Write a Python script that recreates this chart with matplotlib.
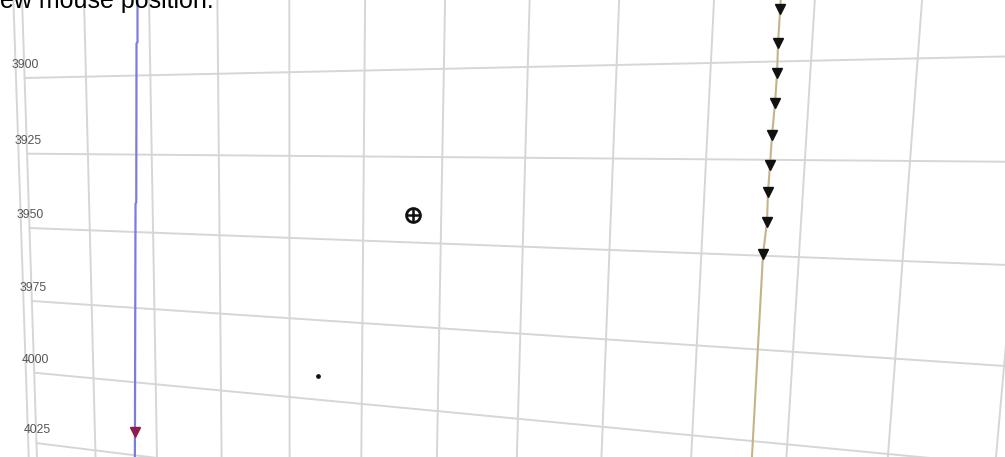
import numpy as np
import matplotlib
matplotlib.use("Agg")
import matplotlib.pyplot as plt
import matplotlib.transforms as mtransforms

# ---------------- data (world coordinates: easting, depth) ----------------
depth_levels = [3900, 3925, 3950, 3975, 4000, 4025]
depth_labels = ["3900", "3925", "3950", "3975", "4000", "4025"]
grid_eastings = [996.4, 1000, 1025, 1050, 1075, 1100, 1125, 1150, 1175,
                 1200, 1225, 1250, 1275, 1300]

blue_well_easting = [1045.8, 1045.36, 1044.97, 1043.7, 1043.4, 1040.9]
blue_well_depth = [3870, 3889.6, 3890.0, 3940.4, 3940.8, 4035]
blue_marker_easting = [1041.4]
blue_marker_depth = [4017]

tan_well_easting = [1241.75, 1241.70, 1241.67, 1241.86, 1241.78, 1241.50,
                    1241.42, 1241.31, 1241.50, 1240.96, 1241.12, 1241.1]
tan_well_depth = [3870, 3887, 3895.3, 3902.9, 3910.5, 3918.6,
                  3926.4, 3933.4, 3941.2, 3949.6, 4004.4, 4040]
tan_marker_easting = [1241.70, 1241.67, 1241.86, 1241.78, 1241.50,
                      1241.42, 1241.31, 1241.50, 1240.96]
tan_marker_depth = [3887, 3895.3, 3902.9, 3910.5, 3918.6,
                    3926.4, 3933.4, 3941.2, 3949.6]

target_easting = [1141]
target_depth = [3942]
point_easting = [1110]
point_depth = [3992.5]

title_text = "new mouse position."

# ---------------- view (perspective camera calibration) ----------------
VIEW_WORLD = np.array([(1000, 3900), (1275, 3900), (1000, 4000), (1275, 4000)], float)
VIEW_SCREEN = np.array([(24.6, 78.0), (917.7, 58.4), (34.2, 372.7), (888.1, 454.0)], float)


def homography(src, dst):
    mn = src.min(axis=0)
    sc = src.max(axis=0) - mn
    N = np.array([[1 / sc[0], 0, -mn[0] / sc[0]],
                  [0, 1 / sc[1], -mn[1] / sc[1]],
                  [0, 0, 1]])
    s = (src - mn) / sc
    A, b = [], []
    for (x, y), (X, Y) in zip(s, dst):
        A.append([x, y, 1, 0, 0, 0, -X * x, -X * y]); b.append(X)
        A.append([0, 0, 0, x, y, 1, -Y * x, -Y * y]); b.append(Y)
    h = np.linalg.solve(np.array(A), np.array(b))
    H = np.append(h, 1).reshape(3, 3)
    return H @ N


class PerspectiveView(mtransforms.Transform):
    input_dims = 2
    output_dims = 2
    is_separable = False
    has_inverse = False

    def __init__(self, H):
        super().__init__()
        self.H = H

    def transform_non_affine(self, values):
        v = np.asarray(values, float).reshape(-1, 2)
        p = np.column_stack([v, np.ones(len(v))]) @ self.H.T
        return p[:, :2] / p[:, 2:3]


W, Hpx = 1005, 457
fig = plt.figure(figsize=(W / 100, Hpx / 100), dpi=100)
fig.patch.set_facecolor("white")
ax = fig.add_axes([0, 0, 1, 1])
ax.set_xlim(0, W)
ax.set_ylim(Hpx, 0)
ax.axis("off")

view = PerspectiveView(homography(VIEW_WORLD, VIEW_SCREEN))
T = view + ax.transData

grid_col = "#d6d6d6"
for e in grid_eastings:
    ax.plot([e, e], [3840, 4080], color=grid_col, lw=1.4, transform=T, zorder=1)
for d in depth_levels:
    ax.plot([grid_eastings[1], 1400], [d, d], color=grid_col, lw=1.4,
            transform=T, zorder=1)
for d, lab in zip(depth_levels, depth_labels):
    x, y = view.transform([(grid_eastings[1], d)])[0]
    ax.annotate(lab, (x, y), xytext=(1, 13), textcoords="offset pixels",
                ha="center", va="center", fontsize=8.8, color="#555555",
                family="Liberation Sans", xycoords="data")

# blue well
ax.plot(blue_well_easting, blue_well_depth, color="#7c7cdc", lw=1.6,
        transform=T, zorder=3)
ax.plot(blue_marker_easting, blue_marker_depth, "v", color="#8e1d4e",
        ms=7.5, transform=T, zorder=4)

# tan well
ax.plot(tan_well_easting, tan_well_depth, color="#c4b488", lw=1.5,
        transform=T, zorder=3)
ax.plot(tan_marker_easting, tan_marker_depth, "v", color="#111111",
        ms=7.5, transform=T, zorder=4)

# target crosshair and point
ax.plot(target_easting, target_depth, "o", mfc="none", mec="#111111",
        ms=10, mew=2.0, transform=T, zorder=5)
ax.plot(target_easting, target_depth, "+", color="#111111",
        ms=10, mew=1.8, transform=T, zorder=5)
ax.plot(point_easting, point_depth, "o", color="#111111", ms=2.4,
        transform=T, zorder=5)

fig.text(-14 / W, 1 - 8 / Hpx, title_text, fontsize=18, color="black",
         family="Liberation Sans", va="baseline", ha="left")

fig.savefig("out.png", dpi=100, facecolor="white")
